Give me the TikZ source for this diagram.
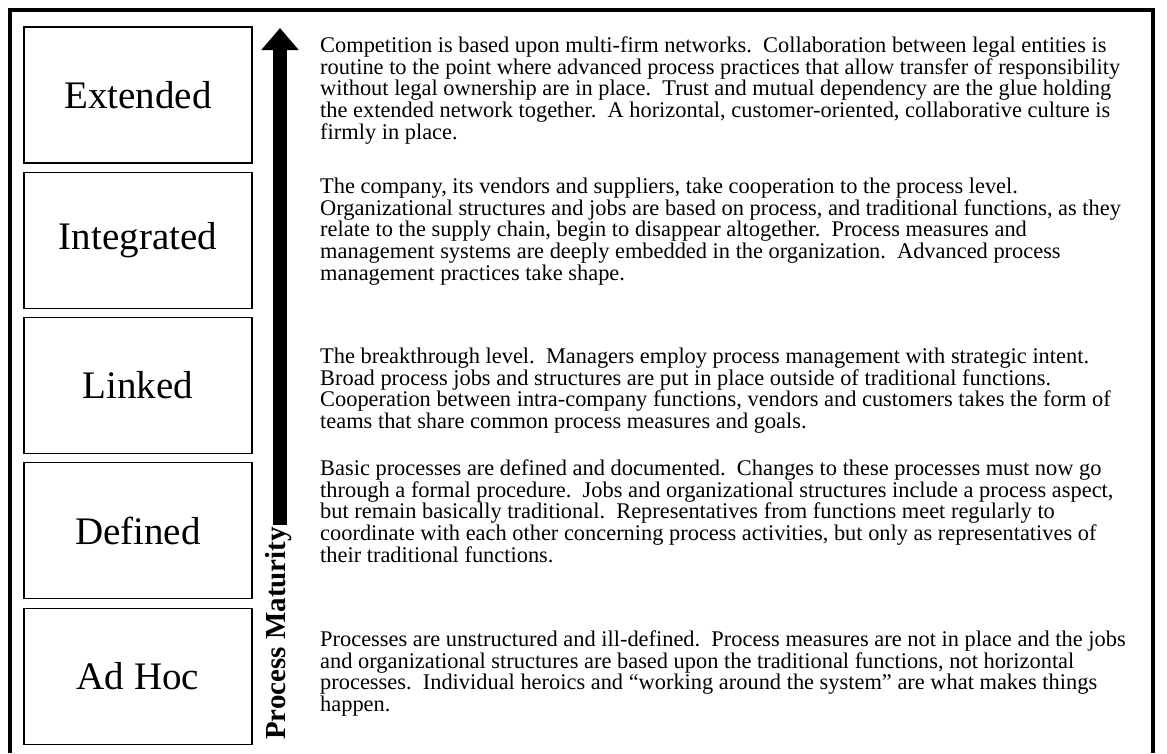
\documentclass[tikz,border=0pt]{standalone}
\usepackage{fontspec}
\setmainfont{Liberation Serif}
\usetikzlibrary{arrows.meta}
\begin{document}
\begin{tikzpicture}[x=1pt,y=-1pt,
  levelbox/.style={draw=black,line width=1.8pt,minimum width=228pt,minimum height=136pt,inner sep=0pt,
     font=\fontsize{39}{40}\selectfont},
  para/.style={anchor=north west,inner sep=0pt,align=left,
     font=\fontsize{22.4}{21.8}\selectfont},
  frameline/.style={line width=4pt},
]
\useasboundingbox (0,0) rectangle (1167,753);
% outer frame (open at the bottom)
\draw[frameline] (10,753) -- (10,10) -- (1152.5,10) -- (1152.5,753);
% level boxes
\node[levelbox] (ext) at (138,95)    {Extended};
\node[levelbox] (int) at (138,240.5) {Integrated};
\node[levelbox] (lnk) at (138,385.5) {Linked};
\node[levelbox] (def) at (138,530.5) {Defined};
\node[levelbox] (adh) at (138,676.5) {Ad Hoc};
% maturity arrow
\coordinate (arrbot) at (280,525);
\coordinate (arrtop) at (280,28);
\draw[line width=14pt,-{Triangle[width=36pt,length=22pt]}] (arrbot) -- (arrtop);
\node[rotate=90,anchor=base west,inner sep=0pt,font=\bfseries\fontsize{29}{30}\selectfont] (pm) at (285,740) {Process Maturity};
% descriptions
\node[para] (d1) at (320,36) {\rule{0pt}{16pt}Competition is based upon multi-firm networks.\ \ Collaboration between legal entities is\\
routine to the point where advanced process practices that allow transfer of responsibility\\
without legal ownership are in place.\ \ Trust and mutual dependency are the glue holding\\
the extended network together.\ \ A horizontal, customer-oriented, collaborative culture is\\
firmly in place.};
\node[para] (d2) at (320,177) {\rule{0pt}{16pt}The company, its vendors and suppliers, take cooperation to the process level.\\
Organizational structures and jobs are based on process, and traditional functions, as they\\
relate to the supply chain, begin to disappear altogether.\ \ Process measures and\\
management systems are deeply embedded in the organization.\ \ Advanced process\\
management practices take shape.};
\node[para] (d3) at (320,347) {\rule{0pt}{16pt}The breakthrough level.\ \ Managers employ process management with strategic intent.\\
Broad process jobs and structures are put in place outside of traditional functions.\\
Cooperation between intra-company functions, vendors and customers takes the form of\\
teams that share common process measures and goals.};
\node[para] (d4) at (320,459) {\rule{0pt}{16pt}Basic processes are defined and documented.\ \ Changes to these processes must now go\\
through a formal procedure.\ \ Jobs and organizational structures include a process aspect,\\
but remain basically traditional.\ \ Representatives from functions meet regularly to\\
coordinate with each other concerning process activities, but only as representatives of\\
their traditional functions.};
\node[para] (d5) at (320,630) {\rule{0pt}{16pt}Processes are unstructured and ill-defined.\ \ Process measures are not in place and the jobs\\
and organizational structures are based upon the traditional functions, not horizontal\\
processes.\ \ Individual heroics and “working around the system” are what makes things\\
happen.};
\end{tikzpicture}
\end{document}
